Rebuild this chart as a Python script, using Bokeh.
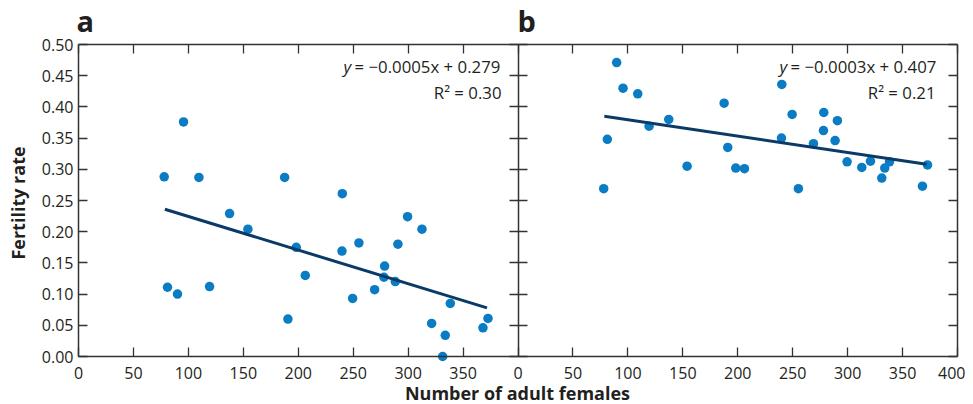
import math
from bokeh.plotting import figure
from bokeh.models import Range1d, LinearAxis, FixedTicker, NumeralTickFormatter, Label
from bokeh.embed import file_html
from bokeh.resources import INLINE

# ---- data ----
a_x = [78.0, 81.0, 90.1, 95.6, 109.6, 119.3, 137.5, 154.2, 187.6, 190.6, 198.2, 206.4,
       240.1, 239.8, 249.5, 255.2, 269.5, 278.6, 278.0, 288.3, 290.7, 299.5, 312.6,
       321.4, 333.8, 331.4, 338.4, 368.1, 372.7]
a_y = [0.288, 0.111, 0.100, 0.376, 0.287, 0.112, 0.229, 0.204, 0.287, 0.060, 0.175, 0.130,
       0.261, 0.169, 0.093, 0.182, 0.107, 0.145, 0.127, 0.120, 0.180, 0.224, 0.204,
       0.053, 0.034, 0.000, 0.085, 0.046, 0.061]

b_x = [89.8, 95.6, 109.0, 119.3, 137.2, 81.3, 78.0, 153.9, 187.6, 190.9, 198.2, 206.1,
       240.1, 239.8, 249.5, 255.2, 268.9, 278.3, 278.0, 288.6, 290.7, 299.5, 312.9,
       320.8, 331.1, 333.8, 338.1, 368.1, 372.7]
b_y = [0.471, 0.430, 0.421, 0.369, 0.380, 0.348, 0.269, 0.305, 0.406, 0.335, 0.302, 0.301,
       0.436, 0.350, 0.388, 0.269, 0.341, 0.391, 0.362, 0.346, 0.378, 0.312, 0.303,
       0.313, 0.286, 0.302, 0.312, 0.273, 0.307]

fit_x = [78.6, 371.8]
fit_a_y = [0.236, 0.078]
fit_b_y = [0.385, 0.308]

x_tick_values = [0, 50, 100, 150, 200, 250, 300, 350, 400]
y_tick_values = [0.00, 0.05, 0.10, 0.15, 0.20, 0.25, 0.30, 0.35, 0.40, 0.45, 0.50]

eq_a = "= \u22120.0005x + 0.279"
r2_a = "R\u00b2 = 0.30"
eq_b = "= \u22120.0003x + 0.407"
r2_b = "R\u00b2 = 0.21"

panel_span = 400  # each panel's x range; panel b is drawn to the right of panel a
y_max = 0.5

FONT = "Open Sans"
TXT = "#231f20"
AX = "#333333"
DOT = "#0a7cc3"
LINE = "#0b3a68"

# ---- layout (pixels) : plot box of both panels ----
W, H = 965, 404
BOX_L, BOX_R, BOX_T, BOX_B = 78, 957, 44, 356
kx = (BOX_R - BOX_L) / (2 * panel_span)
ky = (BOX_B - BOX_T) / y_max

x_range = Range1d(-BOX_L / kx, 2 * panel_span + (W - BOX_R) / kx)
y_range = Range1d(-(H - BOX_B) / ky, y_max + BOX_T / ky)

p = figure(width=W, height=H, x_range=x_range, y_range=y_range,
           x_axis_location=None, y_axis_location=None,
           output_backend="svg", toolbar_location=None,
           min_border_left=0, min_border_right=0,
           min_border_top=0, min_border_bottom=0)
p.xgrid.visible = False
p.ygrid.visible = False
p.outline_line_color = None
p.background_fill_color = "white"
p.border_fill_color = "white"


def px_x(px):
    return (px - BOX_L) / kx


def px_y(py):
    return (BOX_B - py) / ky


xt = [v for v in x_tick_values[:-1]] + [v + panel_span for v in x_tick_values]
overrides = {}
for v in x_tick_values[:-1]:
    overrides[v] = str(v)
for v in x_tick_values:
    overrides[v + panel_span] = str(v)


def make_axis(ticks, bounds, loc, labels=True, tick_out=0):
    ax = LinearAxis(ticker=FixedTicker(ticks=ticks), fixed_location=loc, bounds=bounds)
    ax.minor_tick_line_color = None
    ax.axis_line_color = AX
    ax.axis_line_width = 1.5
    ax.major_tick_line_color = AX
    ax.major_tick_line_width = 1.3
    ax.major_tick_in = 9
    ax.major_tick_out = tick_out
    ax.major_label_text_font = FONT
    ax.major_label_text_font_size = "16px"
    ax.major_label_text_color = TXT
    if not labels:
        ax.major_label_overrides = {t: "" for t in ticks}
        ax.major_label_standoff = 0
    return ax


xb = make_axis(xt, (0, 2 * panel_span), 0)
xb.major_label_overrides = overrides
xb.major_label_standoff = 10
p.add_layout(xb, "below")

yl = make_axis(y_tick_values, (0, y_max), 0)
yl.formatter = NumeralTickFormatter(format="0.00")
yl.major_label_standoff = 5
p.add_layout(yl, "left")

p.add_layout(make_axis(xt, (0, 2 * panel_span), y_max, labels=False), "above")
p.add_layout(make_axis(y_tick_values, (0, y_max), 2 * panel_span, labels=False), "right")
p.add_layout(make_axis(y_tick_values, (0, y_max), panel_span, labels=False, tick_out=9), "left")

# ---- data marks ----
p.scatter(a_x, a_y, size=9.5, fill_color=DOT, line_color=None)
p.scatter([x + panel_span for x in b_x], b_y, size=9.5, fill_color=DOT, line_color=None)
p.line(fit_x, fit_a_y, line_color=LINE, line_width=3)
p.line([x + panel_span for x in fit_x], fit_b_y, line_color=LINE, line_width=3)


# ---- text ----  (positions given as the wanted baseline in pixels)
def lab(px, py, text, size=16.8, style="normal", align="left", angle=0.0):
    shift = 0.46 * size
    if angle:
        x, y = px_x(px - shift), px_y(py)
    else:
        x, y = px_x(px), px_y(py - shift)
    p.add_layout(Label(x=x, y=y, text=text, text_font=FONT, text_font_size=f"{size}px",
                       text_font_style=style, text_align=align, text_color=TXT,
                       text_baseline="alphabetic", angle=angle))


lab(76, 33, "a", size=29, style="bold")
lab(517, 33, "b", size=29, style="bold")
lab(26, 202.5, "Fertility rate", size=18, style="bold", align="center", angle=math.pi / 2)
lab(517, 401, "Number of adult females", size=18, style="bold", align="center")

lab(343, 73.5, "y", style="italic")
lab(354, 73.5, eq_a)
lab(501, 100, r2_a, align="right")

lab(779, 73.5, "y", style="italic")
lab(790, 73.5, eq_b)
lab(935, 100, r2_b, align="right")

open("out.html", "w").write(file_html(p, INLINE))
